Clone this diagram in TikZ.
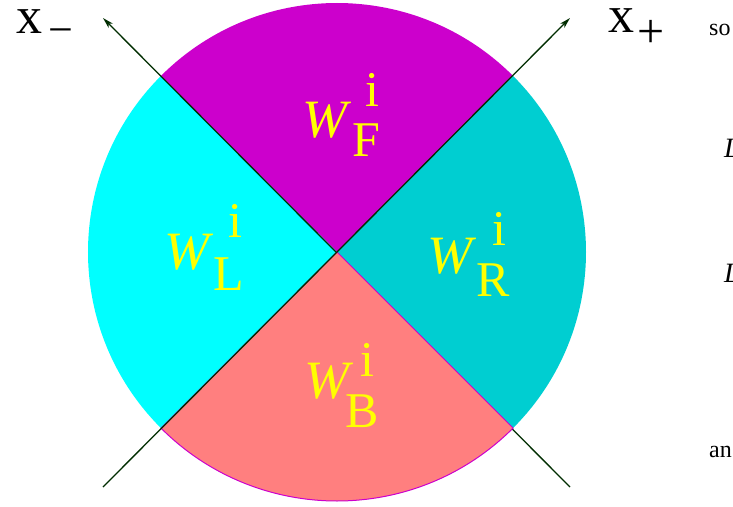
\documentclass[tikz,border=0pt]{standalone}
\usepackage{fontspec}
\setmainfont{Liberation Serif}
\usetikzlibrary{arrows.meta}
\definecolor{wfmag}{RGB}{204,0,204}
\definecolor{wlcyan}{RGB}{0,255,255}
\definecolor{wrteal}{RGB}{0,206,209}
\definecolor{wbsalmon}{RGB}{255,127,127}
\definecolor{axisgreen}{RGB}{0,45,0}
\definecolor{lblyellow}{RGB}{255,255,0}
\newcommand{\bigfont}[1]{\fontsize{#1}{#1}\selectfont}

\begin{document}
\begin{tikzpicture}[
    x=1pt, y=1pt,
    sector/.style={line width=0pt},
    arr/.style={-{Stealth[length=11pt,width=6pt,inset=3pt]}, line width=1.3pt, axisgreen},
    wlbl/.style={text=lblyellow, font=\bigfont{54}\itshape, anchor=base west, inner sep=0pt},
    slbl/.style={text=lblyellow, font=\bigfont{50}, anchor=base west, inner sep=0pt},
    axlbl/.style={font=\bigfont{52}, anchor=base west, inner sep=0pt},
    pagetxt/.style={font=\bigfont{24}, anchor=base west, inner sep=0pt}
]
    \useasboundingbox (-337,-254) rectangle (396,252);
    \coordinate (o) at (0,0);
    \coordinate (ll) at (-234,-235);
    \coordinate (ur) at (233,234);
    \coordinate (lr) at (233,-235);
    \coordinate (ul) at (-234,234);
    % sectors
    \fill[sector, wfmag]   (o) -- (45:249) arc[start angle=45, end angle=135, radius=249] -- cycle;
    \fill[sector, wlcyan]  (o) -- (135:249) arc[start angle=135, end angle=225, radius=249] -- cycle;
    \fill[sector, wrteal]  (o) -- (-45:249) arc[start angle=-45, end angle=45, radius=249] -- cycle;
    \draw[arr] (lr) -- (ul);
    \filldraw[wbsalmon, draw=wfmag, line width=1pt] (o) -- (225:249) arc[start angle=225, end angle=315, radius=249] -- cycle;
    \draw[arr] (ll) -- (ur);
    % labels
    \node[wlbl] (wF) at (-35,114) {W};
    \node[slbl] (wFi) at (28,145) {i};
    \node[slbl] (wFs) at (15,95) {F};
    \node[wlbl] (wL) at (-173,-17) {W};
    \node[slbl] (wLi) at (-109,15) {i};
    \node[slbl] (wLs) at (-124,-38) {L};
    \node[wlbl] (wR) at (90,-21) {W};
    \node[slbl] (wRi) at (155,7) {i};
    \node[slbl] (wRs) at (139,-44) {R};
    \node[wlbl] (wB) at (-33,-146) {W};
    \node[slbl] (wBi) at (23,-124) {i};
    \node[slbl] (wBs) at (8,-175) {B};
    % axis names
    \node[axlbl] (xm) at (-321,218) {x};
    \node[axlbl, font=\bigfont{44}] (xmsub) at (-289,207) {−};
    \node[axlbl] (xp) at (271,219) {x};
    \node[axlbl, font=\bigfont{48}] (xpsub) at (300,204) {+};
    % cut-off page text
    \node[pagetxt] (so) at (372,216) {so};
    \node[pagetxt, font=\bigfont{28}\itshape] (la) at (387,94) {L};
    \node[pagetxt, font=\bigfont{28}\itshape] (lb) at (387,-30) {L};
    \node[pagetxt] (an) at (372,-205) {an};
\end{tikzpicture}
\end{document}
